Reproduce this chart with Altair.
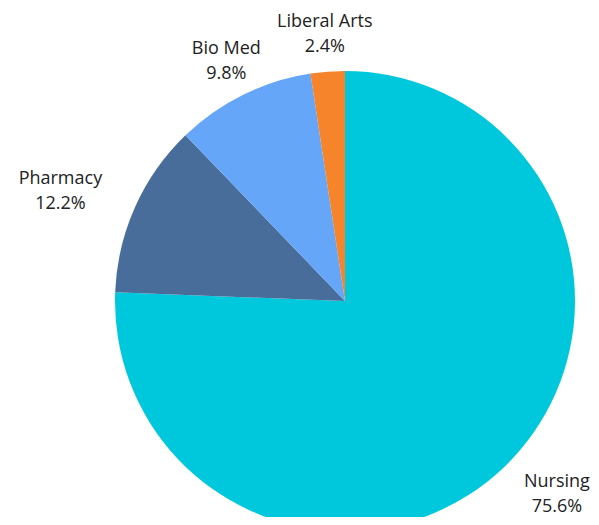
import altair as alt
import pandas as pd

categories = ["Nursing", "Pharmacy", "Bio Med", "Liberal Arts"]
values = [75.6, 12.2, 9.8, 2.4]
labels = ["75.6%", "12.2%", "9.8%", "2.4%"]
colors = ["#00C8DC", "#486D9B", "#65A6F9", "#F5842A"]

df = pd.DataFrame({
    "category": categories,
    "value": values,
    "pct": labels,
    "order": list(range(len(categories))),
})

CX, CY, R = 337, 293, 230
LR = 268  # label ring

base = alt.Chart(df).transform_window(
    cum="sum(value)", sort=[alt.SortField("order")]
).transform_joinaggregate(total="sum(value)").transform_calculate(
    mid="(datum.cum - datum.value/2) / datum.total * 2 * PI",
).transform_calculate(
    lx=f"{CX} + {LR} * sin(datum.mid) + (abs(cos(datum.mid)) < 0.8 ? (sin(datum.mid) < 0 ? -40 : 26) : 0)",
    ly=f"{CY} - {LR} * cos(datum.mid) - 12",
    txt="datum.category + '\\n' + datum.pct",
)

arcs = base.mark_arc(radius=R).encode(
    theta=alt.Theta("value:Q", stack=True),
    order=alt.Order("order:Q"),
    color=alt.Color("category:N", scale=alt.Scale(domain=categories, range=colors), legend=None),
    x=alt.value(CX),
    y=alt.value(CY),
)

text = base.mark_text(
    font="Open Sans", fontSize=18, color="#222222", lineHeight=25, lineBreak="\n",
    align="center", baseline="middle",
).encode(
    x=alt.X("lx:Q", scale=None, axis=None),
    y=alt.Y("ly:Q", scale=None, axis=None),
    text=alt.Text("txt:N"),
)

chart = alt.layer(arcs, text).properties(
    width=583, height=509, padding=0,
    autosize=alt.AutoSizeParams(type="none"),
).configure_view(stroke=None)

chart.save("out.html", embed_options={"renderer": "svg", "actions": False})
